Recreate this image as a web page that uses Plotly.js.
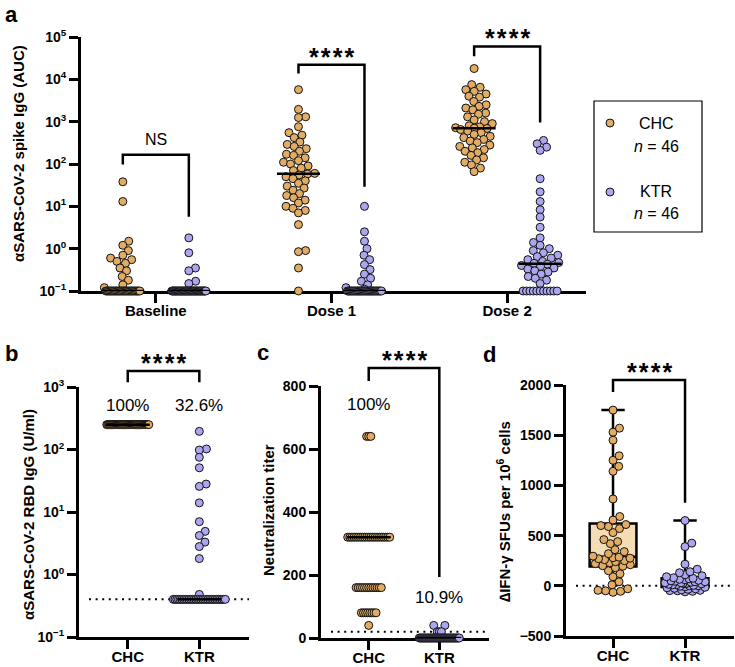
<!DOCTYPE html>
<html><head><meta charset="utf-8">
<script src="https://cdn.plot.ly/plotly-3.0.1.min.js"></script>
<style>html,body{margin:0;padding:0;background:#fff;}#chart{width:735px;height:667px;}</style>
</head><body><div id="chart"></div>
<script>
// ================= DATA =================
const groupsA = ['Baseline', 'Dose 1', 'Dose 2'];
const cohorts = ['CHC', 'KTR'];
const nLabel = ['<i>n</i> = 46', '<i>n</i> = 46'];

// Panel a: spike IgG (AUC)
const a_base_CHC = [38, 13, 1.5, 1.2, 0.9, 0.7, 0.6, 0.55, 0.5, 0.45, 0.35, 0.3, 0.22, 0.18, 0.14, 0.12,
  0.1,0.1,0.1,0.1,0.1,0.1,0.1,0.1,0.1,0.1, 0.1,0.1,0.1,0.1,0.1,0.1,0.1,0.1,0.1,0.1, 0.1,0.1,0.1,0.1,0.1,0.1,0.1,0.1,0.1,0.1];
const a_base_KTR = [1.8, 0.8, 0.35, 0.3, 0.17, 0.15,
  0.1,0.1,0.1,0.1,0.1,0.1,0.1,0.1,0.1,0.1, 0.1,0.1,0.1,0.1,0.1,0.1,0.1,0.1,0.1,0.1, 0.1,0.1,0.1,0.1,0.1,0.1,0.1,0.1,0.1,0.1, 0.1,0.1,0.1,0.1,0.1,0.1,0.1,0.1,0.1,0.1];
const a_d1_CHC = [5700, 1950, 1300, 1250, 760, 550, 480, 420, 330, 290, 260, 230, 200, 170, 160, 140, 120, 110, 100, 90,
  80, 70, 60, 58, 55, 50, 45, 40, 35, 30, 27, 24, 20, 18, 16, 14, 12, 10, 9, 8, 7, 3.7, 0.9, 0.85, 0.35, 0.1];
const a_d1_KTR = [10, 2.5, 1.5, 1.0, 0.7, 0.55, 0.42, 0.32, 0.25, 0.2, 0.17, 0.14, 0.12, 0.11,
  0.1,0.1,0.1,0.1,0.1,0.1,0.1,0.1,0.1,0.1, 0.1,0.1,0.1,0.1,0.1,0.1,0.1,0.1,0.1,0.1, 0.1,0.1,0.1,0.1,0.1,0.1,0.1,0.1,0.1,0.1, 0.1,0.1];
const a_d2_CHC = [18000, 7500, 6500, 5700, 5200, 4500, 4000, 3800, 3000, 2500, 2300, 2100, 1900, 1600, 1500, 1300, 1100, 1000,
  900, 800, 750, 720, 700, 690, 650, 600, 550, 500, 450, 420, 380, 350, 320, 280, 260, 240, 220, 200, 185, 160, 140, 125, 110, 95, 80, 66];
const a_d2_KTR = [360, 300, 250, 210, 45, 22, 13, 8.3, 5.6, 3.2, 1.8, 1.4, 1.2, 1.0, 0.9, 0.8, 0.7, 0.65, 0.6, 0.55, 0.5, 0.47,
  0.45, 0.43, 0.4, 0.38, 0.35, 0.33, 0.3, 0.28, 0.25, 0.22, 0.2, 0.18, 0.15,
  0.1,0.1,0.1,0.1,0.1,0.1,0.1,0.1,0.1,0.1,0.1];
const STARS = '*\u200A*\u200A*\u200A*';
const sigA_label = ['NS', STARS, STARS];
const sigA_top = [166, 22000, 60000];
const sigA_leftEnd = [97, 13800, 35000];
const sigA_rightEnd = [5.7, 29, 950];

// Panel b: RBD IgG (U/ml)
const b_CHC = [250,250,250,250,250,250,250,250,250,250, 250,250,250,250,250,250,250,250,250,250,
  250,250,250,250,250,250,250,250,250,250, 250,250,250,250,250,250,250,250,250,250, 250,250,250,250,250,250];
const b_KTR = [195, 102, 98, 75, 51, 28, 25.7, 14, 7, 4.9, 4.2, 3.3, 2.8, 1.8, 0.48,
  0.4,0.4,0.4,0.4,0.4,0.4,0.4,0.4,0.4,0.4, 0.4,0.4,0.4,0.4,0.4,0.4,0.4,0.4,0.4,0.4, 0.4,0.4,0.4,0.4,0.4,0.4,0.4,0.4,0.4,0.4, 0.4];
const b_cutoff = 0.4;
const b_pct = ['100%', '32.6%'];
const b_pctY = [497, 497];
const sigB = {top: 1800, left: 1190, right: 1190};

// Panel c: neutralization titer
const c_CHC = [640, 640, 640,
  320,320,320,320,320,320,320,320,320,320, 320,320,320,320,320,320,320,320,320,320, 320,
  160,160,160,160,160,160,160,160,160,160, 160,160,160,
  80,80,80,80,80,80,80,80, 40];
const c_KTR = [40, 40, 20, 20, 20,
  0,0,0,0,0,0,0,0,0,0, 0,0,0,0,0,0,0,0,0,0, 0,0,0,0,0,0,0,0,0,0, 0,0,0,0,0,0,0,0,0,0, 0];
const c_cutoff = 20;
const c_pct = ['100%', '10.9%'];
const c_pctY = [740, 127];
const sigC = {top: 857, left: 816, right: 194};

// Panel d: ΔIFN-γ SFUs
const d_CHC = [-65, -55, -50, -45, -30, 10, 40, 90, 120, 150, 180, 195, 200, 210, 220, 230, 240, 250, 260, 270, 275, 280, 285,
  295, 320, 340, 360, 420, 440, 460, 530, 570, 590, 600, 610, 655, 690, 865, 1140, 1190, 1250, 1295, 1450, 1530, 1570, 1750];
const d_KTR = [-60, -55, -50, -48, -45, -40, -35, -30, -25, -20, -15, -10, -5, 0, 0, 5, 10, 10, 15, 20, 20, 25, 25,
  30, 30, 35, 40, 40, 45, 50, 55, 60, 65, 70, 75, 80, 90, 100, 110, 130, 140, 165, 215, 390, 425, 650];
const d_ref = 0;
const sigD = {top: 2050, left: 1930, right: 827};

// ================= STYLE / GEOMETRY =================
const W = 735, H = 667;
const F = 'Liberation Sans, Arial, Helvetica, sans-serif';
const colCHC = '#E2AC64', colKTR = '#ABA6EF';
const boxFill = ['#F4DDB5', '#DDDAF8'];
const P = {
  a: {x0: 81, x1: 586, y0: 37, y1: 291, xr: [-0.426, 2.449], yr: [-1, 5], log: true, xa: 'x', ya: 'y'},
  b: {x0: 79, x1: 249, y0: 387, y1: 637, xr: [-0.681, 1.694], yr: [-1, 3], log: true, xa: 'x2', ya: 'y2'},
  c: {x0: 321, x1: 489, y0: 386, y1: 638, xr: [-0.676, 1.704], yr: [0, 800], log: false, xa: 'x3', ya: 'y3'},
  d: {x0: 566, x1: 734, y0: 385, y1: 636, xr: [-0.653, 1.68], yr: [-500, 2000], log: false, xa: 'x4', ya: 'y4'}
};
const pxPerX = p => (p.x1 - p.x0) / (p.xr[1] - p.xr[0]);
const tY = (p, v) => p.log ? Math.log10(v) : v;
const pyOf = (p, v) => p.y1 - (tY(p, v) - p.yr[0]) / (p.yr[1] - p.yr[0]) * (p.y1 - p.y0);
const pxOf = (p, x) => p.x0 + (x - p.xr[0]) * pxPerX(p);
const paperX = (p, x) => pxOf(p, x) / W;
const paperY = (p, v) => 1 - pyOf(p, v) / H;
const pX = px => px / W, pY = py => 1 - py / H;

// beeswarm in pixel space
function swarm(p, vals, d, maxHalf, tieStep, tieMax) {
  const n = vals.length, off = new Array(n).fill(null), placed = [];
  const groups = {};
  vals.forEach((v, i) => { (groups[v] = groups[v] || []).push(i); });
  Object.values(groups).forEach(idx => {
    if (idx.length >= 3) {
      const w = Math.min((idx.length - 1) * tieStep, tieMax);
      idx.forEach((i, k) => { const x = -w / 2 + k * w / (idx.length - 1); off[i] = x; placed.push({x, y: pyOf(p, vals[i])}); });
    }
  });
  const rest = vals.map((v, i) => i).filter(i => off[i] === null).sort((i, j) => vals[i] - vals[j]);
  rest.forEach(i => {
    const y = pyOf(p, vals[i]);
    const cands = [0];
    placed.forEach(q => { const dy = Math.abs(q.y - y); if (dy < d) { const dx = Math.sqrt(d * d - dy * dy); cands.push(q.x + dx, q.x - dx); } });
    for (let s = -maxHalf; s <= maxHalf; s += 0.5) cands.push(s);
    const inR = cands.filter(x => Math.abs(x) <= maxHalf + 1e-6);
    const minD = x => placed.reduce((m, q) => Math.min(m, Math.hypot(q.x - x, q.y - y)), Infinity);
    let best = null;
    for (const th of [d - 0.01, 0.75 * d, 0.5 * d, 0.25 * d]) {
      const ok = inR.filter(x => minD(x) >= th);
      if (ok.length) { best = ok.reduce((a, b) => Math.abs(b) < Math.abs(a) ? b : a); break; }
    }
    if (best === null) best = inR.reduce((a, b) => minD(b) > minD(a) ? b : a);
    off[i] = best; placed.push({x: best, y});
  });
  return off;
}

const median = arr => { const s = [...arr].sort((a, b) => a - b), n = s.length; return n % 2 ? s[(n - 1) / 2] : (s[n / 2 - 1] + s[n / 2]) / 2; };
const pctl = (arr, q) => { // GraphPad-style (n+1) percentile
  const s = [...arr].sort((a, b) => a - b), n = s.length, pos = q * (n + 1);
  const lo = Math.floor(pos), fr = pos - lo;
  if (lo < 1) return s[0]; if (lo >= n) return s[n - 1];
  return s[lo - 1] + fr * (s[lo] - s[lo - 1]);
};

const traces = [];
function pointsTrace(p, vals, center, color, d, maxHalf, tieStep, tieMax) {
  const off = swarm(p, vals, d, maxHalf, tieStep, tieMax);
  const k = pxPerX(p);
  traces.push({type: 'scatter', mode: 'markers', xaxis: p.xa, yaxis: p.ya, cliponaxis: false,
    x: off.map(o => center + o / k), y: vals,
    marker: {size: 8, color: color, line: {color: '#111', width: 1}}, hoverinfo: 'skip'});
}
function medianTrace(p, vals, center, halfPx) {
  const m = median(vals), k = pxPerX(p);
  traces.push({type: 'scatter', mode: 'lines', xaxis: p.xa, yaxis: p.ya, cliponaxis: false,
    x: [center - halfPx / k, center + halfPx / k], y: [m, m], line: {color: '#000', width: 2.5}, hoverinfo: 'skip'});
}

// Panel a
const aSets = [[a_base_CHC, a_base_KTR], [a_d1_CHC, a_d1_KTR], [a_d2_CHC, a_d2_KTR]];
const aOff = 33 / pxPerX(P.a);
aSets.forEach((pair, g) => {
  pair.forEach((vals, c) => {
    const ctr = g + (c === 0 ? -aOff : aOff);
    pointsTrace(P.a, vals, ctr, c === 0 ? colCHC : colKTR, 7.2, 19, 7, 34);
  });
});
aSets.forEach((pair, g) => pair.forEach((vals, c) => medianTrace(P.a, vals, g + (c === 0 ? -aOff : aOff), 21.5)));

// Panel b
pointsTrace(P.b, b_CHC, 0, colCHC, 7.2, 20, 2, 42);
pointsTrace(P.b, b_KTR, 1, colKTR, 7.2, 20, 2, 52);
medianTrace(P.b, b_CHC, 0, 22); medianTrace(P.b, b_KTR, 1, 22);

// Panel c
pointsTrace(P.c, c_CHC, 0, colCHC, 7.2, 20, 2.1, 42);
pointsTrace(P.c, c_KTR, 1, colKTR, 7.2, 20, 2.1, 40);
medianTrace(P.c, c_CHC, 0, 22); medianTrace(P.c, c_KTR, 1, 22);

// Panel d boxes + points
[d_CHC, d_KTR].forEach((vals, c) => {
  traces.push({type: 'box', xaxis: 'x4', yaxis: 'y4', x: [c],
    q1: [pctl(vals, 0.25)], median: [median(vals)], q3: [pctl(vals, 0.75)],
    lowerfence: [Math.min(...vals)], upperfence: [Math.max(...vals)],
    width: 0.65, whiskerwidth: 0.5, boxpoints: false, fillcolor: boxFill[c],
    line: {color: '#000', width: 2.5}, hoverinfo: 'skip'});
});
pointsTrace(P.d, d_CHC, 0, colCHC, 7.6, 20, 7, 40);
pointsTrace(P.d, d_KTR, 1, colKTR, 7.6, 20, 7, 40);

// ================= LAYOUT =================
const shapes = [], annotations = [];
function bracket(p, xl, xr, yTop, yL, yR, label) {
  const X1 = paperX(p, xl), X2 = paperX(p, xr);
  shapes.push({type: 'path', xref: 'paper', yref: 'paper',
    path: `M${X1},${paperY(p, yL)} L${X1},${paperY(p, yTop)} L${X2},${paperY(p, yTop)} L${X2},${paperY(p, yR)}`,
    line: {color: '#000', width: 2.5}});
  const isStar = label.indexOf('*') >= 0;
  annotations.push({xref: 'paper', yref: 'paper', x: (X1 + X2) / 2, y: pY(pyOf(p, yTop) - (isStar ? 8 : 15)),
    text: label, showarrow: false, xanchor: 'center', yanchor: 'middle',
    font: {family: F, size: isStar ? 25 : 16, color: '#000', weight: isStar ? 'bold' : 'normal'}});
}
groupsA.forEach((g, i) => bracket(P.a, i - aOff, i + aOff, sigA_top[i], sigA_leftEnd[i], sigA_rightEnd[i], sigA_label[i]));
bracket(P.b, 0, 1, sigB.top, sigB.left, sigB.right, STARS);
bracket(P.c, 0, 1, sigC.top, sigC.left, sigC.right, STARS);
bracket(P.d, 0, 1, sigD.top, sigD.left, sigD.right, STARS);

function pctLabels(p, labels, ys) {
  labels.forEach((t, i) => annotations.push({xref: 'paper', yref: 'paper', x: paperX(p, i), y: paperY(p, ys[i]),
    text: t, showarrow: false, xanchor: 'center', yanchor: 'middle', font: {family: F, size: 17, color: '#000'}}));
}
pctLabels(P.b, b_pct, b_pctY);
pctLabels(P.c, c_pct, c_pctY);

function refLine(p, v) {
  shapes.push({type: 'line', xref: 'paper', yref: 'paper', x0: pX(p.x0 + 10), x1: pX(p.x1), y0: paperY(p, v), y1: paperY(p, v),
    line: {color: '#000', width: 2, dash: '2px,4.6px'}, layer: 'below'});
}
refLine(P.b, b_cutoff); refLine(P.c, c_cutoff); refLine(P.d, d_ref);

// axis titles
function ytitle(px, py, text) {
  annotations.push({xref: 'paper', yref: 'paper', x: pX(px), y: pY(py), text, textangle: -90, showarrow: false,
    xanchor: 'center', yanchor: 'middle', font: {family: F, size: 15, color: '#000', weight: 'bold'}});
}
ytitle(18, 154, 'αSARS-CoV-2 spike IgG (AUC)');
ytitle(28, 515, 'αSARS-CoV-2 RBD IgG (U/ml)');
ytitle(268, 510, 'Neutralization titer');
ytitle(503, 512, '∆IFN-γ SFUs per 10<sup>6</sup> cells');

// panel letters
[['a', 11, 15], ['b', 11, 353], ['c', 263, 352], ['d', 489, 354]].forEach(([t, x, y]) =>
  annotations.push({xref: 'paper', yref: 'paper', x: pX(x), y: pY(y), text: t, showarrow: false, xanchor: 'center', yanchor: 'middle',
    font: {family: F, size: 22, color: '#000', weight: 'bold'}}));

// legend
shapes.push({type: 'rect', xref: 'paper', yref: 'paper', x0: pX(594), x1: pX(702), y0: pY(101), y1: pY(232), line: {color: '#000', width: 1.2}});
[[colCHC, 123, 146, 0], [colKTR, 192, 213, 1]].forEach(([col, y1, y2, i]) => {
  shapes.push({type: 'circle', xref: 'paper', yref: 'paper', x0: pX(606), x1: pX(614), y0: pY(y1 + 4), y1: pY(y1 - 4),
    fillcolor: col, line: {color: '#111', width: 1}});
  annotations.push({xref: 'paper', yref: 'paper', x: pX(656), y: pY(y1), text: cohorts[i], showarrow: false, xanchor: 'center', yanchor: 'middle',
    font: {family: F, size: 16, color: '#000'}});
  annotations.push({xref: 'paper', yref: 'paper', x: pX(656), y: pY(y2), text: nLabel[i], showarrow: false, xanchor: 'center', yanchor: 'middle',
    font: {family: F, size: 16, color: '#000'}});
});

function xax(p, tickvals, ticktext) {
  return {domain: [pX(p.x0), pX(p.x1)], range: p.xr, anchor: p.ya, tickmode: 'array', tickvals, ticktext,
    ticks: 'outside', ticklen: 9, tickwidth: 3, tickcolor: '#000', showline: true, linewidth: 3, linecolor: '#000',
    showgrid: false, zeroline: false, layer: 'below traces', fixedrange: true, ticklabelstandoff: -5,
    tickfont: {family: F, size: 15, color: '#000', weight: 'bold'}};
}
function yax(p, extra) {
  return Object.assign({domain: [pY(p.y1), pY(p.y0)], anchor: p.xa, ticks: 'outside', ticklen: 9, tickwidth: 3, tickcolor: '#000',
    showline: true, linewidth: 3, linecolor: '#000', showgrid: false, zeroline: false, layer: 'below traces', fixedrange: true,
    tickfont: {family: F, size: 14, color: '#000', weight: 'bold'}}, extra);
}
const logTicks = (lo, hi) => { const v = [], t = []; for (let e = lo; e <= hi; e++) { v.push(Math.pow(10, e)); t.push('10<sup>' + (e < 0 ? '−' + (-e) : e) + '</sup>'); } return {tickvals: v, ticktext: t}; };
const lta = logTicks(-1, 5), ltb = logTicks(-1, 3);

const layout = {
  width: W, height: H, margin: {l: 0, r: 0, t: 0, b: 0}, paper_bgcolor: '#fff', plot_bgcolor: 'rgba(0,0,0,0)',
  showlegend: false, hovermode: false, font: {family: F, color: '#000'},
  xaxis: xax(P.a, [0, 1, 2], groupsA),
  yaxis: yax(P.a, {type: 'log', range: P.a.yr, tickmode: 'array', tickvals: lta.tickvals, ticktext: lta.ticktext}),
  xaxis2: xax(P.b, [0, 1], cohorts),
  yaxis2: yax(P.b, {type: 'log', range: P.b.yr, tickmode: 'array', tickvals: ltb.tickvals, ticktext: ltb.ticktext}),
  xaxis3: xax(P.c, [0, 1], cohorts),
  yaxis3: yax(P.c, {range: P.c.yr, tickmode: 'array', tickvals: [0, 200, 400, 600, 800]}),
  xaxis4: xax(P.d, [0, 1], cohorts),
  yaxis4: yax(P.d, {range: P.d.yr, tickmode: 'array', tickvals: [-500, 0, 500, 1000, 1500, 2000], ticktext: ['−500', '0', '500', '1000', '1500', '2000']}),
  shapes, annotations
};
Plotly.newPlot('chart', traces, layout, {staticPlot: true, displayModeBar: false});
</script></body></html>
